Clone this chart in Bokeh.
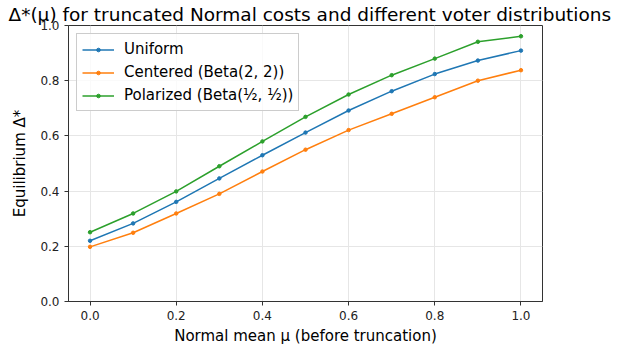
from bokeh.plotting import figure
from bokeh.embed import file_html
from bokeh.resources import INLINE
from bokeh.models import Legend, LegendItem, FixedTicker, PrintfTickFormatter

mu = [0.0, 0.1, 0.2, 0.3, 0.4, 0.5, 0.6, 0.7, 0.8, 0.9, 1.0]
uniform = [0.22, 0.283, 0.361, 0.446, 0.530, 0.612, 0.692, 0.762, 0.824, 0.873, 0.909]
centered = [0.198, 0.249, 0.319, 0.390, 0.471, 0.550, 0.621, 0.680, 0.740, 0.800, 0.838]
polarized = [0.251, 0.319, 0.399, 0.490, 0.580, 0.669, 0.750, 0.820, 0.880, 0.941, 0.961]
labels = ["Uniform", "Centered (Beta(2, 2))", "Polarized (Beta(½, ½))"]
colors = ["#1f77b4", "#ff7f0e", "#2ca02c"]
x_ticks = [0.0, 0.2, 0.4, 0.6, 0.8, 1.0]
y_ticks = [0.0, 0.2, 0.4, 0.6, 0.8, 1.0]

FONT = "DejaVu Sans"

p = figure(width=622, height=347, output_backend="svg", toolbar_location=None,
           x_range=(-0.05, 1.05), y_range=(0.0, 1.0),
           min_border_left=68, min_border_right=80, min_border_bottom=45, min_border_top=0)

p.title.text = "Δ*(μ) for truncated Normal costs and different voter distributions"
p.title.text_font = FONT
p.title.text_font_size = "18.5px"
p.title.text_font_style = "normal"
p.title.text_color = "#000000"
p.title.align = "left"
p.title.offset = -60
p.title.standoff = 2

items = []
for ys, lab, c in zip([uniform, centered, polarized], labels, colors):
    r1 = p.line(mu, ys, line_color=c, line_width=1.5)
    r2 = p.scatter(mu, ys, size=3.5, fill_color=c, line_color=c)
    items.append(LegendItem(label=lab, renderers=[r1, r2]))

legend = Legend(items=items, location="top_left")
legend.label_text_font = FONT
legend.label_text_font_size = "15px"
legend.label_text_color = "#000000"
legend.border_line_color = "#cccccc"
legend.border_line_alpha = 1
legend.background_fill_alpha = 0.8
legend.glyph_width = 32
legend.glyph_height = 9
legend.label_height = 20
legend.spacing = 3
legend.padding = 5
legend.margin = 8
legend.label_standoff = 10
p.add_layout(legend)

for ax in [p.xaxis[0], p.yaxis[0]]:
    ax.major_label_text_font = FONT
    ax.major_label_text_font_size = "12px"
    ax.major_label_text_color = "#222222"
    ax.axis_label_text_font = FONT
    ax.axis_label_text_font_size = "15px"
    ax.axis_label_text_font_style = "normal"
    ax.axis_label_text_color = "#000000"
    ax.axis_line_color = "#333333"
    ax.major_tick_line_color = "#333333"
    ax.major_tick_out = 4
    ax.major_tick_in = 0
    ax.minor_tick_line_color = None
    ax.formatter = PrintfTickFormatter(format="%.1f")

p.xaxis.ticker = FixedTicker(ticks=x_ticks)
p.yaxis.ticker = FixedTicker(ticks=y_ticks)
p.xaxis.axis_label = "Normal mean μ (before truncation)"
p.yaxis.axis_label = "Equilibrium Δ*"
p.xaxis.axis_label_standoff = 4
p.yaxis.axis_label_standoff = 8

p.xgrid.grid_line_color = "#e6e6e6"
p.ygrid.grid_line_color = "#e6e6e6"
p.outline_line_color = "#333333"
p.outline_line_width = 1

open("out.html", "w").write(file_html(p, INLINE))
